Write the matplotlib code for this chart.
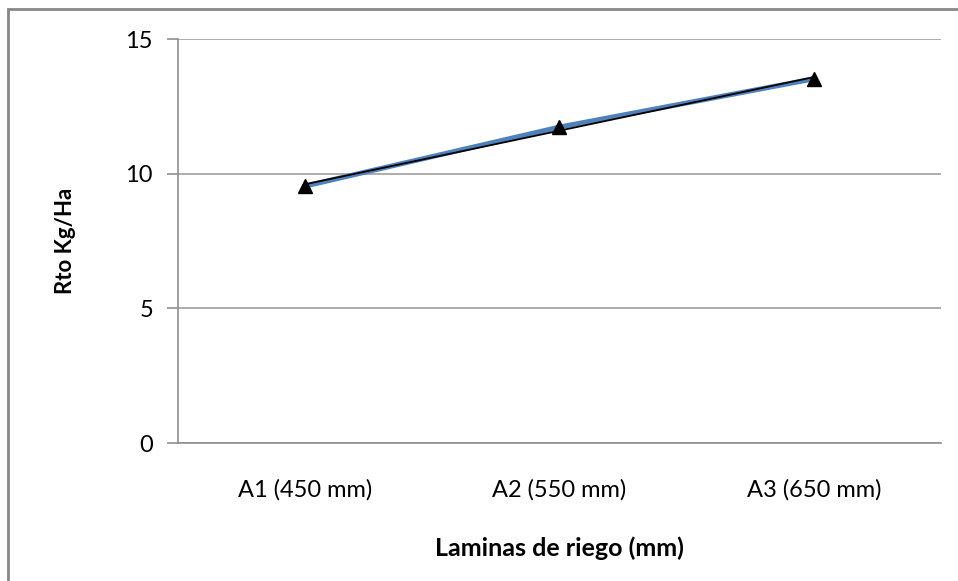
import matplotlib
matplotlib.use("Agg")
import matplotlib.pyplot as plt
from matplotlib.patches import Rectangle
import numpy as np

categories = ["A1 (450 mm)", "A2 (550 mm)", "A3 (650 mm)"]
rendimiento = [9.54, 11.73, 13.52]
yticks = [0, 5, 10, 15]

plt.rcParams['font.family'] = ['Lato', 'DejaVu Sans']

fig = plt.figure(figsize=(9.58, 5.81), dpi=100)
ax = fig.add_axes([178/958, 1-443/581, (941-178)/958, (443-39)/581])

x = np.arange(len(categories))
ax.plot(x, rendimiento, color="#4F81BD", lw=3.6, solid_capstyle="round", zorder=3)
coef = np.polyfit(x, rendimiento, 1)
ax.plot(x, np.polyval(coef, x), color="black", lw=1.3, zorder=4)
ax.plot(x, rendimiento, ls="none", marker="^", ms=9.5, color="black", zorder=5)

ax.set_xlim(-0.5, len(categories) - 0.5)
ax.set_ylim(0, 15)
ax.set_yticks(yticks)
ax.set_yticklabels([str(t) for t in yticks])
ax.set_xticks(x)
ax.set_xticklabels(categories)
ax.grid(axis="y", color="#A0A0A0", lw=1.2)
ax.set_axisbelow(True)
for s in ["top", "right"]:
    ax.spines[s].set_visible(False)
for s in ["left", "bottom"]:
    ax.spines[s].set_color("#909090")
    ax.spines[s].set_linewidth(1.2)
ax.tick_params(axis="y", length=8, color="#909090", width=1.2, labelsize=17, pad=10)
ax.tick_params(axis="x", length=0, labelsize=17, pad=26)

ax.set_ylabel("Rto Kg/Ha", fontsize=16, fontweight="bold", labelpad=36)
ax.set_xlabel("Laminas de riego (mm)", fontsize=18, fontweight="bold", labelpad=26)

fig.patches.append(Rectangle((8/958, -0.1), 1.2, 1 - 9/581 + 0.1, transform=fig.transFigure,
                             fill=False, edgecolor="#888888", lw=2, zorder=0))

fig.savefig("out.png", dpi=100, facecolor="white")
